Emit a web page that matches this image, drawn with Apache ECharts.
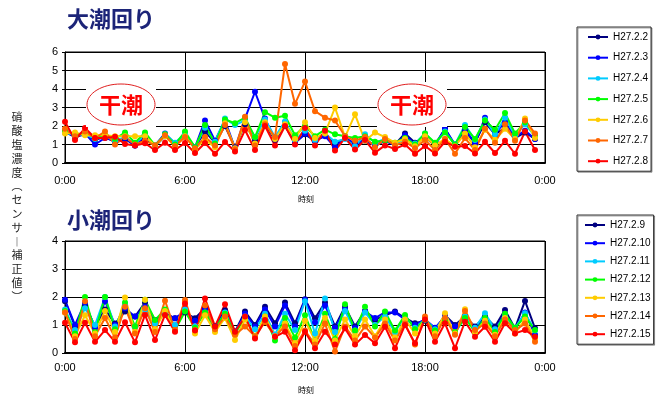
<!DOCTYPE html>
<html>
<head>
<meta charset="utf-8">
<script src="https://cdn.jsdelivr.net/npm/echarts@6/dist/echarts.min.js"></script>
<style>
  html, body { margin: 0; padding: 0; background: #fff; }
  #main { width: 657px; height: 396px; }
</style>
</head>
<body>
<div id="main"></div>
<script>
// 30分ごとの時刻（最後の 24:00 は 0:00 と表示）
const times = ['0:00','0:30','1:00','1:30','2:00','2:30','3:00','3:30','4:00','4:30','5:00','5:30',
  '6:00','6:30','7:00','7:30','8:00','8:30','9:00','9:30','10:00','10:30','11:00','11:30',
  '12:00','12:30','13:00','13:30','14:00','14:30','15:00','15:30','16:00','16:30','17:00','17:30',
  '18:00','18:30','19:00','19:30','20:00','20:30','21:00','21:30','22:00','22:30','23:00','23:30','0:00'];

const colors = ['#000080', '#0000ff', '#00ccff', '#00ff00', '#ffcc00', '#ff6600', '#ff0000'];

// 大潮回り
const springNames = ['H27.2.2','H27.2.3','H27.2.4','H27.2.5','H27.2.6','H27.2.7','H27.2.8'];
const s_0202 = [1.7,1.4,1.55,1.25,1.4,1.15,1.3,0.95,1.35,0.9,1.45,1.0,1.5,0.85,1.7,1.1,2.0,0.85,2.1,1.2,2.1,1.25,2.0,1.1,
  1.55,1.2,1.5,1.0,1.35,1.05,1.25,0.95,1.2,1.0,1.6,1.1,1.4,0.95,1.85,0.95,1.7,1.1,2.2,1.55,1.9,1.35,1.65,1.3];
const s_0203 = [1.65,1.45,1.6,1.0,1.35,1.2,1.35,0.95,1.5,0.95,1.6,1.05,1.55,0.85,2.3,1.2,2.3,0.8,2.4,3.85,2.4,1.3,2.2,1.1,
  1.6,1.2,1.45,0.85,1.4,1.0,1.2,0.95,1.2,0.95,1.5,1.0,1.45,1.0,1.85,1.0,1.85,1.05,2.45,1.6,2.2,1.4,1.75,1.3];
const s_0204 = [1.65,1.5,1.55,1.3,1.45,1.2,1.4,1.05,1.5,0.9,1.55,1.1,1.6,0.85,1.9,1.15,2.4,2.05,2.3,1.4,2.35,1.4,2.25,1.25,
  1.75,1.25,1.6,1.15,1.3,0.9,1.55,1.1,1.3,1.0,1.3,1.05,1.6,1.05,1.7,1.0,2.05,1.25,2.35,1.55,2.45,1.5,2.1,1.45];
const s_0205 = [1.75,1.55,1.6,1.4,1.5,1.3,1.65,1.1,1.65,0.95,1.55,1.0,1.7,0.85,2.05,1.05,2.35,2.15,2.45,1.4,2.75,2.45,2.55,1.5,
  2.0,1.45,1.8,1.55,1.45,1.35,1.45,1.15,1.2,1.1,1.35,1.0,1.6,1.1,1.65,1.0,1.95,1.3,2.3,1.8,2.7,1.6,2.2,1.5];
const s_0206 = [1.6,1.65,1.5,1.5,1.5,1.45,1.45,1.45,1.45,0.95,1.45,0.9,1.45,0.75,1.25,0.85,2.15,0.8,2.2,1.05,2.2,1.3,2.1,1.3,
  2.2,1.35,1.6,3.0,1.4,2.63,1.2,1.65,1.4,1.1,1.3,0.9,1.45,0.95,1.3,0.9,1.6,0.85,1.8,1.25,1.85,1.3,2.4,1.35];
const s_0207 = [1.85,1.45,1.7,1.35,1.7,1.0,1.4,1.0,1.2,0.95,1.5,0.9,1.4,0.8,1.4,0.95,2.05,0.75,2.5,0.95,2.1,1.4,5.35,3.2,
  4.4,2.8,2.45,2.3,1.45,1.2,1.4,0.85,1.3,0.95,1.15,0.8,1.25,0.7,1.3,0.5,1.35,0.7,1.85,1.1,2.1,1.2,2.3,1.6];
const s_0208 = [2.23,1.24,1.89,1.35,1.35,1.42,1.03,0.95,1.07,0.7,1.1,0.7,1.08,0.54,1.08,0.5,1.14,0.62,1.78,0.7,2.0,0.95,2.0,1.0,
  1.89,0.95,1.75,0.67,1.35,0.73,1.24,0.56,0.95,0.76,1.0,0.5,0.92,0.52,1.15,0.88,0.92,0.52,1.15,0.54,1.2,0.5,1.7,0.7];
const springData = [s_0202, s_0203, s_0204, s_0205, s_0206, s_0207, s_0208];

// 小潮回り
const neapNames = ['H27.2.9','H27.2.10','H27.2.11','H27.2.12','H27.2.13','H27.2.14','H27.2.15'];
const n_0209 = [1.85,0.95,1.7,0.95,1.55,1.05,1.48,1.3,1.8,1.18,1.42,1.24,1.45,1.24,1.6,0.95,1.53,0.76,1.48,1.0,1.65,1.06,1.8,1.06,
  1.92,1.24,1.8,0.95,1.65,0.95,1.5,1.18,1.35,1.48,1.25,1.06,1.15,0.82,1.35,1.0,1.3,0.95,1.3,0.95,1.54,0.88,1.86,0.88];
const n_0210 = [1.9,1.0,1.8,0.9,1.85,1.0,1.6,1.3,1.65,1.1,1.4,1.24,1.5,1.15,1.55,0.95,1.45,0.75,1.4,0.95,1.55,0.95,1.7,0.95,
  1.9,1.1,1.7,0.9,1.55,0.9,1.48,1.25,1.45,1.45,1.2,1.0,1.2,0.9,1.3,0.95,1.25,0.9,1.2,0.85,1.4,0.85,1.45,0.65];
const n_0211 = [1.55,0.82,1.6,1.0,2.0,0.95,1.7,0.95,1.55,1.05,1.45,1.0,1.55,0.95,1.45,0.8,1.45,0.75,1.3,0.85,1.4,0.65,1.4,0.82,
  1.85,0.7,1.95,0.75,1.5,0.8,1.45,1.0,1.3,0.75,1.3,0.9,1.2,0.85,1.25,0.7,1.3,0.9,1.42,0.85,1.3,0.9,1.42,0.8];
const n_0212 = [1.5,0.7,2.0,0.75,2.0,0.85,1.8,0.95,1.9,1.18,1.55,0.82,1.48,0.9,1.45,0.9,1.4,0.7,1.25,0.6,1.3,0.45,1.25,0.55,
  1.35,0.45,1.4,0.5,1.74,0.8,1.65,0.95,1.48,0.8,1.36,0.85,1.2,0.8,1.2,0.75,1.25,0.75,1.25,0.75,1.4,0.9,1.3,0.82];
const n_0213 = [1.45,0.6,1.35,0.7,1.5,0.75,1.98,0.75,1.9,0.85,1.5,0.8,1.85,0.7,1.35,0.75,1.25,0.46,1.2,0.6,1.3,0.6,1.05,0.35,
  1.15,0.45,1.25,0.45,1.2,0.6,1.2,0.6,1.2,0.55,1.2,0.7,1.2,0.7,1.42,0.7,1.56,0.75,1.15,0.65,1.25,0.7,1.2,0.5];
const n_0214 = [1.45,0.5,1.85,0.6,1.25,0.55,1.65,0.7,1.6,0.75,1.87,0.82,1.89,0.82,1.7,0.85,1.3,0.65,0.95,0.6,1.1,0.6,0.95,0.25,
  0.8,0.3,1.05,0.05,0.95,0.45,0.95,0.55,1.05,0.45,1.05,0.3,1.3,0.6,1.25,0.65,1.5,0.82,1.05,0.6,1.2,0.82,1.05,0.4];
const n_0215 = [1.08,0.38,1.08,0.4,0.82,0.4,1.1,0.38,1.36,0.46,1.36,0.76,1.77,0.8,1.95,0.95,1.74,0.76,1.3,0.52,1.18,0.58,0.76,0.1,
  0.76,0.17,0.76,0.3,0.88,0.3,0.64,0.35,0.94,0.17,1.0,0.35,1.2,0.4,1.06,0.17,1.12,0.58,0.94,0.4,1.06,0.7,0.82,0.58];
const neapData = [n_0209, n_0210, n_0211, n_0212, n_0213, n_0214, n_0215];

const FONT = 'Liberation Sans';
const JP = 'Noto Sans CJK JP';

function makeSeries(names, data, idx) {
  return names.map((name, i) => ({
    name: name,
    type: 'line',
    xAxisIndex: idx,
    yAxisIndex: idx,
    data: data[i],
    symbol: 'circle',
    symbolSize: 6,
    showSymbol: true,
    color: colors[i],
    lineStyle: { width: 2, color: colors[i] },
    itemStyle: { color: colors[i] },
    animation: false,
    z: 3
  }));
}

function xAxisOf(idx, margin) {
  return {
    type: 'category',
    gridIndex: idx,
    data: times,
    boundaryGap: false,
    axisLine: { lineStyle: { color: '#000', width: 2 } },
    axisTick: { show: false },
    axisLabel: { interval: 11, color: '#000', fontFamily: FONT, fontSize: 11, margin: margin },
    splitLine: { show: true, interval: 11, lineStyle: { color: '#000', width: 1 } }
  };
}

function yAxisOf(idx, max) {
  return {
    type: 'value',
    gridIndex: idx,
    min: 0, max: max, interval: 1,
    axisLine: { show: true, lineStyle: { color: '#000', width: 1 } },
    axisTick: { show: true, length: 3, lineStyle: { color: '#000' } },
    axisLabel: { color: '#000', fontFamily: FONT, fontSize: 11, margin: 7 },
    splitLine: { lineStyle: { color: '#000', width: 1 } }
  };
}

function legendOf(names, top, gap, padding) {
  return {
    data: names,
    orient: 'vertical',
    left: 577,
    top: top,
    itemGap: gap,
    itemWidth: 20,
    itemHeight: 6,
    padding: padding,
    borderColor: '#333',
    borderWidth: 1,
    backgroundColor: '#fff',
    shadowColor: 'rgba(0,0,0,0.35)',
    shadowOffsetX: 1,
    shadowOffsetY: 1,
    textStyle: { color: '#000', fontFamily: FONT, fontSize: 10, lineHeight: 12 }
  };
}

const yLabel = '硝酸塩濃度︵センサ︱補正値︶'.split('').join('\n');

function lowTide(cx) {
  return [
    { type: 'rect', shape: { x: cx - 35, y: 82, width: 70, height: 45 }, style: { fill: '#fff' }, z: 10 },
    { type: 'ellipse', shape: { cx: cx, cy: 104.5, rx: 34, ry: 20.5 },
      style: { fill: '#fff', stroke: '#e02020', lineWidth: 1 }, z: 11 },
    { type: 'text', x: cx, y: 104.5, z: 12,
      style: { text: '干潮', fill: '#ff0000', font: 'bold 22px "' + JP + '"', textAlign: 'center', textVerticalAlign: 'middle' } }
  ];
}

const chart = echarts.init(document.getElementById('main'));
chart.setOption({
  animation: false,
  backgroundColor: '#fff',
  grid: [
    { left: 65, right: 112, top: 52, height: 111, show: true, borderColor: '#000', borderWidth: 1 },
    { left: 65, right: 112, top: 241, height: 112, show: true, borderColor: '#000', borderWidth: 1 }
  ],
  xAxis: [xAxisOf(0, 12), xAxisOf(1, 9)],
  yAxis: [yAxisOf(0, 6), yAxisOf(1, 4)],
  legend: [
    legendOf(springNames, 27, 8.7, [4, 3, 4, 10]),
    legendOf(neapNames, 215, 6.2, [4, 3, 4, 7])
  ],
  series: makeSeries(springNames, springData, 0).concat(makeSeries(neapNames, neapData, 1)),
  graphic: [
    { type: 'text', x: 67, y: 19, style: { text: '大潮回り', fill: '#1c2478', font: 'bold 22px "' + JP + '"', textVerticalAlign: 'middle' } },
    { type: 'text', x: 67, y: 220, style: { text: '小潮回り', fill: '#1c2478', font: 'bold 22px "' + JP + '"', textVerticalAlign: 'middle' } },
    { type: 'text', x: 306, y: 199, style: { text: '時刻', fill: '#000', font: '8px "' + JP + '"', textAlign: 'center', textVerticalAlign: 'middle' } },
    { type: 'text', x: 306, y: 390, style: { text: '時刻', fill: '#000', font: '8px "' + JP + '"', textAlign: 'center', textVerticalAlign: 'middle' } },
    { type: 'text', x: 17, y: 207, style: { text: yLabel, fill: '#222', font: '11px "' + JP + '"', lineHeight: 13.8, textAlign: 'center', textVerticalAlign: 'middle' } }
  ].concat(lowTide(121), lowTide(412))
});
</script>
</body>
</html>
